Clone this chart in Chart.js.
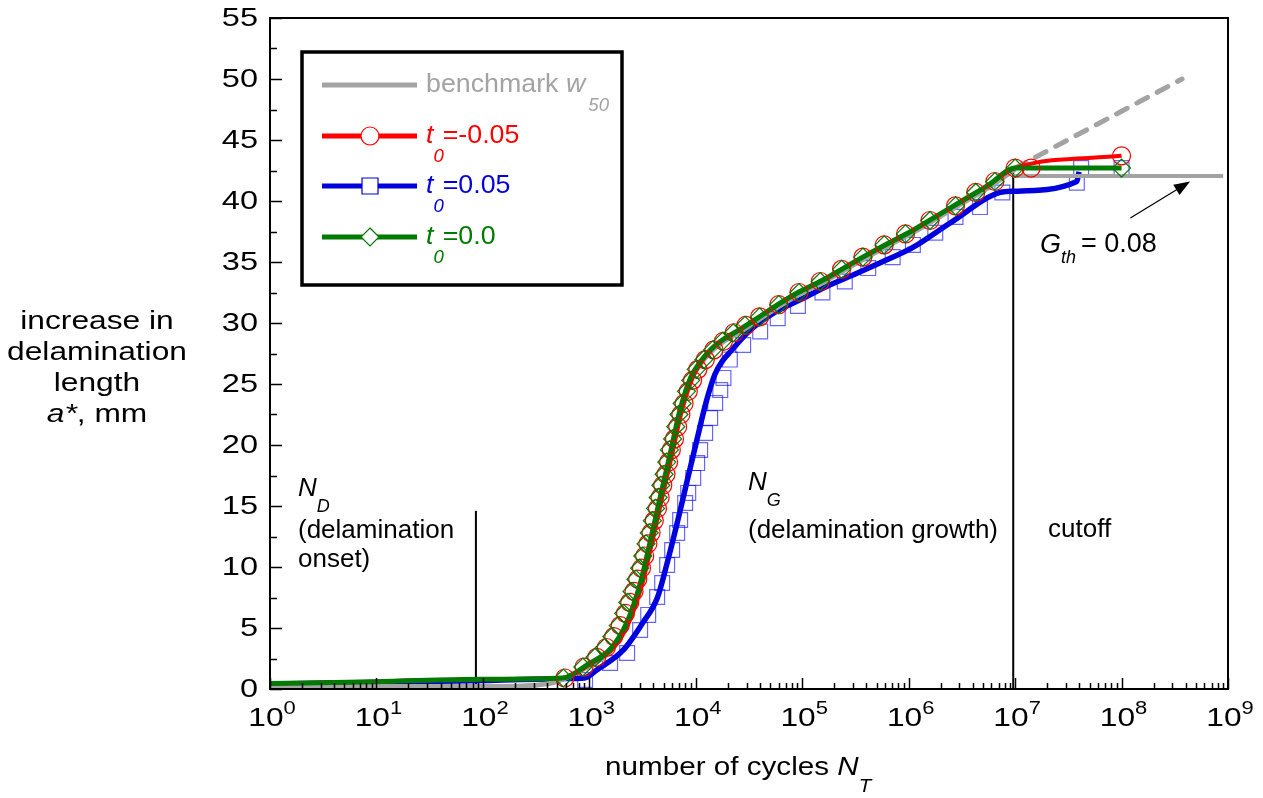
<!DOCTYPE html>
<html>
<head>
<meta charset="utf-8">
<script src="https://cdn.jsdelivr.net/npm/chart.js@4.4.1/dist/chart.umd.min.js"></script>
<style>
  html, body { margin: 0; padding: 0; background: #fff; }
  canvas { display: block; }
</style>
</head>
<body>
<canvas id="delamChart" width="1263" height="798"></canvas>
<script>
// number of cycles / increase in delamination length (mm)
const benchN = [1, 150, 300, 450, 560, 700, 1000, 1585, 2239, 3020, 3715, 4624, 5754, 7079, 8913, 11220, 14125, 17783, 26303, 38019, 58884, 91201, 154882, 245471, 389045, 630957, 1047129, 1778279, 3162278, 5623413, 1e7];
const benchA = [0.2, 0.2, 0.3, 0.5, 0.8, 1.2, 1.9, 3.1, 5.2, 8.5, 11.8, 15.5, 19.1, 22.6, 25.3, 26.7, 27.7, 28.4, 29.3, 30.2, 31.3, 32.3, 33.3, 34.3, 35.3, 36.3, 37.3, 38.5, 39.8, 41.1, 42.6];
const benchExtN = [1e7, 3.7e8];
const benchExtA = [42.7, 50.0];

const greenN = [1, 10, 100, 562, 1000, 1585, 2239, 3020, 3715, 4624, 5754, 7079, 8913, 11220, 14125, 17783, 26303, 38019, 58884, 91201, 154882, 245471, 389045, 630957, 1047129, 1778279, 3162278, 5623413, 1e7, 1e8];
const greenA = [0.45, 0.6, 0.8, 0.9, 2.1, 3.3, 5.4, 8.7, 12.0, 15.7, 19.3, 22.8, 25.5, 26.9, 27.9, 28.6, 29.5, 30.4, 31.5, 32.5, 33.5, 34.5, 35.5, 36.5, 37.5, 38.7, 40.0, 41.3, 42.7, 42.7];

const redN = [1, 10, 100, 562, 1047, 1660, 2344, 3162, 3890, 4840, 6030, 7410, 9330, 11480, 14130, 17780, 26300, 38020, 58880, 91200, 154900, 245500, 389000, 631000, 1047000, 1778000, 3162000, 5623000, 1e7, 1e8];
const redA = [0.45, 0.6, 0.8, 0.9, 2.1, 3.3, 5.4, 8.7, 12.0, 15.7, 19.3, 22.8, 25.5, 26.9, 27.9, 28.6, 29.5, 30.4, 31.5, 32.5, 33.5, 34.5, 35.5, 36.5, 37.5, 38.7, 40.0, 41.3, 42.7, 43.7];

const blueN = [1, 100, 560, 900, 1175, 2089, 3162, 4365, 5370, 6683, 8318, 10230, 12590, 15140, 18200, 20890, 32360, 53700, 95500, 169800, 331100, 631000, 1096000, 2455000, 7244000, 9550000, 38020000, 39810000];
const blueA = [0.4, 0.7, 0.85, 0.9, 1.56, 3.2, 5.4, 7.5, 10.3, 13.6, 17.1, 20.4, 23.6, 25.8, 27.0, 27.6, 29.4, 30.8, 31.9, 33.0, 34.1, 35.2, 36.2, 38.2, 40.7, 40.8, 41.6, 42.4];

// marker positions
const circleN = [589, 891, 1175, 1445, 1698, 1950, 2188, 2399, 2630, 2851, 3090, 3311, 3548, 3802, 4074, 4365, 4624, 4898, 5248, 5559, 5888, 6310, 6761, 7244, 7762, 8511, 9333, 10470, 12300, 14790, 18200, 22910, 29510, 39810, 60260, 93330, 147900, 234400, 371500, 588800, 933300, 1585000, 2754000, 4266000, 6457000, 1e7, 14130000, 1e8];
const circleA = [0.9, 1.8, 2.6, 3.4, 4.3, 5.2, 6.2, 7.1, 8.0, 9.0, 9.9, 10.9, 11.9, 12.8, 13.8, 14.8, 15.7, 16.7, 17.6, 18.6, 19.6, 20.5, 21.5, 22.5, 23.4, 24.4, 25.3, 26.2, 27.0, 27.8, 28.5, 29.2, 29.8, 30.5, 31.5, 32.5, 33.4, 34.4, 35.4, 36.4, 37.3, 38.4, 39.6, 40.7, 41.6, 42.7, 42.7, 43.7];

const diamondN = [570, 870, 1130, 1390, 1630, 1870, 2100, 2300, 2520, 2740, 2970, 3180, 3410, 3650, 3910, 4190, 4440, 4700, 5040, 5340, 5650, 6060, 6490, 6950, 7450, 8170, 8960, 10100, 11900, 14400, 17800, 22500, 29000, 39800, 60300, 93300, 147900, 234400, 371500, 588800, 933300, 1585000, 2754000, 4266000, 6457000, 1e7, 1e8];
const diamondA = [0.9, 1.8, 2.6, 3.4, 4.3, 5.2, 6.2, 7.1, 8.0, 9.0, 9.9, 10.9, 11.9, 12.8, 13.8, 14.8, 15.7, 16.7, 17.6, 18.6, 19.6, 20.5, 21.5, 22.5, 23.4, 24.4, 25.3, 26.2, 27.0, 27.8, 28.5, 29.2, 29.8, 30.5, 31.5, 32.5, 33.4, 34.4, 35.4, 36.4, 37.3, 38.4, 39.6, 40.7, 41.6, 42.7, 42.7];

const squareN = [912, 1567, 2265, 3000, 3573, 4335, 4831, 5383, 5998, 6683, 7129, 7943, 8492, 9462, 10300, 10990, 12250, 13650, 15210, 16980, 18200, 20890, 27860, 40270, 58880, 91200, 154900, 251200, 416900, 707900, 1096000, 1778000, 2754000, 4677000, 7586000, 38020000, 41690000, 1e8];
const squareA = [0.74, 2.13, 2.95, 4.84, 6.07, 7.54, 8.69, 10.16, 11.39, 12.79, 13.85, 15.25, 16.07, 17.3, 18.52, 19.59, 20.98, 22.21, 23.44, 24.5, 25.5, 27.0, 28.2, 29.3, 30.4, 31.4, 32.5, 33.4, 34.5, 35.4, 36.4, 37.4, 38.7, 39.5, 40.7, 41.5, 42.7, 42.7];

// reference lines
const onsetN = [86, 86];
const onsetA = [14.6, 0];
const cutoffN = [9.6e6, 9.6e6];
const cutoffA = [42.5, 0];
const thresholdN = [9.6e6, 9e8];
const thresholdA = [42.05, 42.05];

const yTicks = [0, 5, 10, 15, 20, 25, 30, 35, 40, 45, 50, 55];
const xDecades = [0, 1, 2, 3, 4, 5, 6, 7, 8, 9];

const FONT = '"Liberation Sans", Arial, Helvetica, sans-serif';
const GRAY = '#a3a3a3';
const RED = '#ff0000';
const BLUE = '#0000dd';
const GREEN = '#007a00';

function pts(xs, ys) {
  return xs.map((x, i) => ({ x: x, y: ys[i] }));
}

function lineSet(xs, ys, color, width, extra) {
  return Object.assign({
    data: pts(xs, ys),
    borderColor: color,
    backgroundColor: color,
    borderWidth: width,
    pointRadius: 0,
    fill: false,
    cubicInterpolationMode: 'monotone'
  }, extra || {});
}

function markerSet(xs, ys, color, style, radius) {
  return {
    data: pts(xs, ys),
    showLine: false,
    pointStyle: style,
    pointRadius: radius,
    pointBorderWidth: 1.2,
    pointBorderColor: color,
    pointBackgroundColor: 'rgba(0,0,0,0)'
  };
}

// text pieces in a row; sx stretches the glyphs horizontally like the original figure
function drawRuns(ctx, x, y, runs, color, sx) {
  sx = sx || 1;
  ctx.save();
  ctx.textBaseline = 'middle';
  ctx.textAlign = 'left';
  let cx = x;
  runs.forEach(r => {
    ctx.font = (r.italic ? 'italic ' : '') + (r.size || 26) + 'px ' + FONT;
    ctx.fillStyle = r.color || color || '#000';
    ctx.save();
    ctx.translate(cx, y + (r.dy || 0));
    ctx.scale(sx, 1);
    ctx.fillText(r.t, 0, 0);
    ctx.restore();
    cx += (ctx.measureText(r.t).width + (r.gap || 0)) * sx;
  });
  ctx.restore();
  return cx;
}

function runsWidth(ctx, runs, sx) {
  sx = sx || 1;
  let w = 0;
  runs.forEach(r => {
    ctx.font = (r.italic ? 'italic ' : '') + (r.size || 26) + 'px ' + FONT;
    w += (ctx.measureText(r.t).width + (r.gap || 0)) * sx;
  });
  return w;
}

const decorPlugin = {
  id: 'decor',
  afterDraw(chart) {
    const ctx = chart.ctx;
    const a = chart.chartArea;
    const xs = chart.scales.x;
    const ys = chart.scales.y;

    // frame
    ctx.save();
    ctx.strokeStyle = '#000';
    ctx.lineWidth = 2;
    ctx.strokeRect(a.left, a.top, a.right - a.left, a.bottom - a.top);

    // inward ticks on y
    ctx.lineWidth = 1.5;
    for (let v = 0; v <= 55; v += 2.5) {
      const py = Math.round(ys.getPixelForValue(v)) + 0.5;
      const len = v % 5 === 0 ? 12 : 7;
      ctx.beginPath();
      ctx.moveTo(a.left, py);
      ctx.lineTo(a.left + len, py);
      ctx.stroke();
    }
    // inward ticks on x (log)
    xDecades.forEach(d => {
      const base = Math.pow(10, d);
      const px = Math.round(xs.getPixelForValue(base)) + 0.5;
      ctx.beginPath();
      ctx.moveTo(px, a.bottom);
      ctx.lineTo(px, a.bottom - 11);
      ctx.stroke();
      if (d < 9) {
        for (let k = 2; k <= 9; k++) {
          const mx = Math.round(xs.getPixelForValue(k * base)) + 0.5;
          ctx.beginPath();
          ctx.moveTo(mx, a.bottom);
          ctx.lineTo(mx, a.bottom - 6);
          ctx.stroke();
        }
      }
    });
    ctx.restore();

    // y tick labels
    yTicks.forEach(v => {
      const py = ys.getPixelForValue(v);
      const runs = [{ t: String(v), size: 26 }];
      drawRuns(ctx, 258 - runsWidth(ctx, runs, 1.25), py + 1, runs, '#000', 1.25);
    });

    // x tick labels 10^n
    xDecades.forEach(d => {
      const px = xs.getPixelForValue(Math.pow(10, d));
      const runs = [{ t: '10', size: 26 }, { t: String(d), size: 18, dy: -10 }];
      const w = runsWidth(ctx, runs, 1.22);
      drawRuns(ctx, px - w / 2 + 2, 719, runs, '#000', 1.22);
    });

    // axis titles
    const xt = [{ t: 'number of cycles ' }, { t: 'N', italic: true }, { t: 'T', italic: true, size: 18, dy: 19 }];
    drawRuns(ctx, 605, 768, xt, '#000', 1.14);

    const yTitle = [[{ t: 'increase in' }], [{ t: 'delamination' }], [{ t: 'length' }], [{ t: 'a*', italic: true }, { t: ', mm' }]];
    const yRows = [322, 353, 384, 415];
    yTitle.forEach((runs, i) => {
      drawRuns(ctx, 97 - runsWidth(ctx, runs, 1.22) / 2, yRows[i], runs, '#000', 1.22);
    });

    // region notes
    drawRuns(ctx, 298, 489, [{ t: 'N', italic: true }, { t: 'D', italic: true, size: 18, dy: 18 }]);
    drawRuns(ctx, 298, 531, [{ t: '(delamination' }]);
    drawRuns(ctx, 298, 560, [{ t: 'onset)' }]);
    drawRuns(ctx, 748, 483, [{ t: 'N', italic: true }, { t: 'G', italic: true, size: 18, dy: 18 }]);
    drawRuns(ctx, 748, 531, [{ t: '(delamination growth)' }]);
    drawRuns(ctx, 1048, 530, [{ t: 'cutoff' }]);
    drawRuns(ctx, 1040, 245, [{ t: 'G', italic: true, size: 27 }, { t: 'th', italic: true, size: 18, dy: 13, gap: 5 }, { t: '= 0.08', size: 27 }]);

    // arrow to threshold line
    const tx = xs.getPixelForValue(1.21e8), ty = ys.getPixelForValue(38.6);
    const hx = xs.getPixelForValue(4.4e8), hy = ys.getPixelForValue(41.6);
    const ang = Math.atan2(hy - ty, hx - tx);
    ctx.save();
    ctx.strokeStyle = '#000';
    ctx.fillStyle = '#000';
    ctx.lineWidth = 1.2;
    ctx.beginPath();
    ctx.moveTo(tx, ty);
    ctx.lineTo(hx - 12 * Math.cos(ang), hy - 12 * Math.sin(ang));
    ctx.stroke();
    ctx.beginPath();
    ctx.moveTo(hx, hy);
    ctx.lineTo(hx - 16 * Math.cos(ang) + 6 * Math.sin(ang), hy - 16 * Math.sin(ang) - 6 * Math.cos(ang));
    ctx.lineTo(hx - 16 * Math.cos(ang) - 6 * Math.sin(ang), hy - 16 * Math.sin(ang) + 6 * Math.cos(ang));
    ctx.closePath();
    ctx.fill();
    ctx.restore();

    // legend box
    ctx.save();
    ctx.fillStyle = '#fff';
    ctx.fillRect(302, 52, 320, 233);
    ctx.strokeStyle = '#000';
    ctx.lineWidth = 3.5;
    ctx.strokeRect(302, 52, 320, 233);
    const rows = [
      { y: 85, color: GRAY, marker: null },
      { y: 136, color: RED, marker: 'circle' },
      { y: 186, color: BLUE, marker: 'square' },
      { y: 237, color: GREEN, marker: 'diamond' }
    ];
    rows.forEach(r => {
      ctx.strokeStyle = r.color;
      ctx.lineWidth = 5;
      ctx.beginPath();
      ctx.moveTo(322, r.y);
      ctx.lineTo(417, r.y);
      ctx.stroke();
      ctx.lineWidth = 1.2;
      ctx.beginPath();
      if (r.marker === 'circle') {
        ctx.fillStyle = '#fff';
        ctx.arc(370, r.y, 9, 0, Math.PI * 2);
        ctx.fill();
      } else if (r.marker === 'square') {
        ctx.fillStyle = '#fff';
        ctx.rect(362, r.y - 8, 16, 16);
        ctx.fill();
      } else if (r.marker === 'diamond') {
        ctx.fillStyle = '#fff';
        ctx.moveTo(370, r.y - 9);
        ctx.lineTo(379, r.y);
        ctx.lineTo(370, r.y + 9);
        ctx.lineTo(361, r.y);
        ctx.closePath();
        ctx.fill();
      }
      if (r.marker) ctx.stroke();
    });
    ctx.restore();
    drawRuns(ctx, 426, 85, [{ t: 'benchmark ' }, { t: 'w', italic: true, gap: 3 }, { t: '50', italic: true, size: 18, dy: 21 }], GRAY, 1.03);
    drawRuns(ctx, 426, 136, [{ t: 't', italic: true }, { t: '0', italic: true, size: 18, dy: 21, gap: -1 }, { t: '=-0.05' }], RED, 1.03);
    drawRuns(ctx, 426, 186, [{ t: 't', italic: true }, { t: '0', italic: true, size: 18, dy: 21, gap: -1 }, { t: '=0.05' }], BLUE, 1.03);
    drawRuns(ctx, 426, 237, [{ t: 't', italic: true }, { t: '0', italic: true, size: 18, dy: 21, gap: -1 }, { t: '=0.0' }], GREEN, 1.03);
  }
};

const ctx = document.getElementById('delamChart').getContext('2d');

new Chart(ctx, {
  type: 'line',
  data: {
    datasets: [
      markerSet(diamondN, diamondA, GREEN, 'rectRot', 9),
      markerSet(circleN, circleA, RED, 'circle', 9),
      lineSet(greenN, greenA, GREEN, 5),
      lineSet(redN, redA, RED, 4),
      lineSet(benchN, benchA, GRAY, 5),
      lineSet(benchExtN, benchExtA, GRAY, 5, { borderDash: [12, 11], borderCapStyle: 'round' }),
      lineSet(thresholdN, thresholdA, GRAY, 4),
      markerSet(squareN, squareA, 'rgba(0,0,255,0.6)', 'rect', 10.5),
      lineSet(blueN, blueA, BLUE, 5.5),
      lineSet(onsetN, onsetA, '#000', 2),
      lineSet(cutoffN, cutoffA, '#000', 2)
    ]
  },
  options: {
    responsive: false,
    animation: false,
    layout: { padding: { top: 18, right: 35, left: 0, bottom: 0 } },
    plugins: {
      legend: { display: false },
      tooltip: { enabled: false }
    },
    scales: {
      x: {
        type: 'logarithmic',
        min: 1,
        max: 1e9,
        grid: { display: false, drawTicks: false },
        border: { display: false },
        ticks: { display: false },
        afterFit(scale) { scale.height = 109; }
      },
      y: {
        min: 0,
        max: 55,
        afterBuildTicks(scale) { scale.ticks = yTicks.map(v => ({ value: v })); },
        ticks: { display: false },
        grid: { display: false, drawTicks: false },
        border: { display: false },
        afterFit(scale) { scale.width = 270; }
      }
    }
  },
  plugins: [decorPlugin]
});
</script>
</body>
</html>
